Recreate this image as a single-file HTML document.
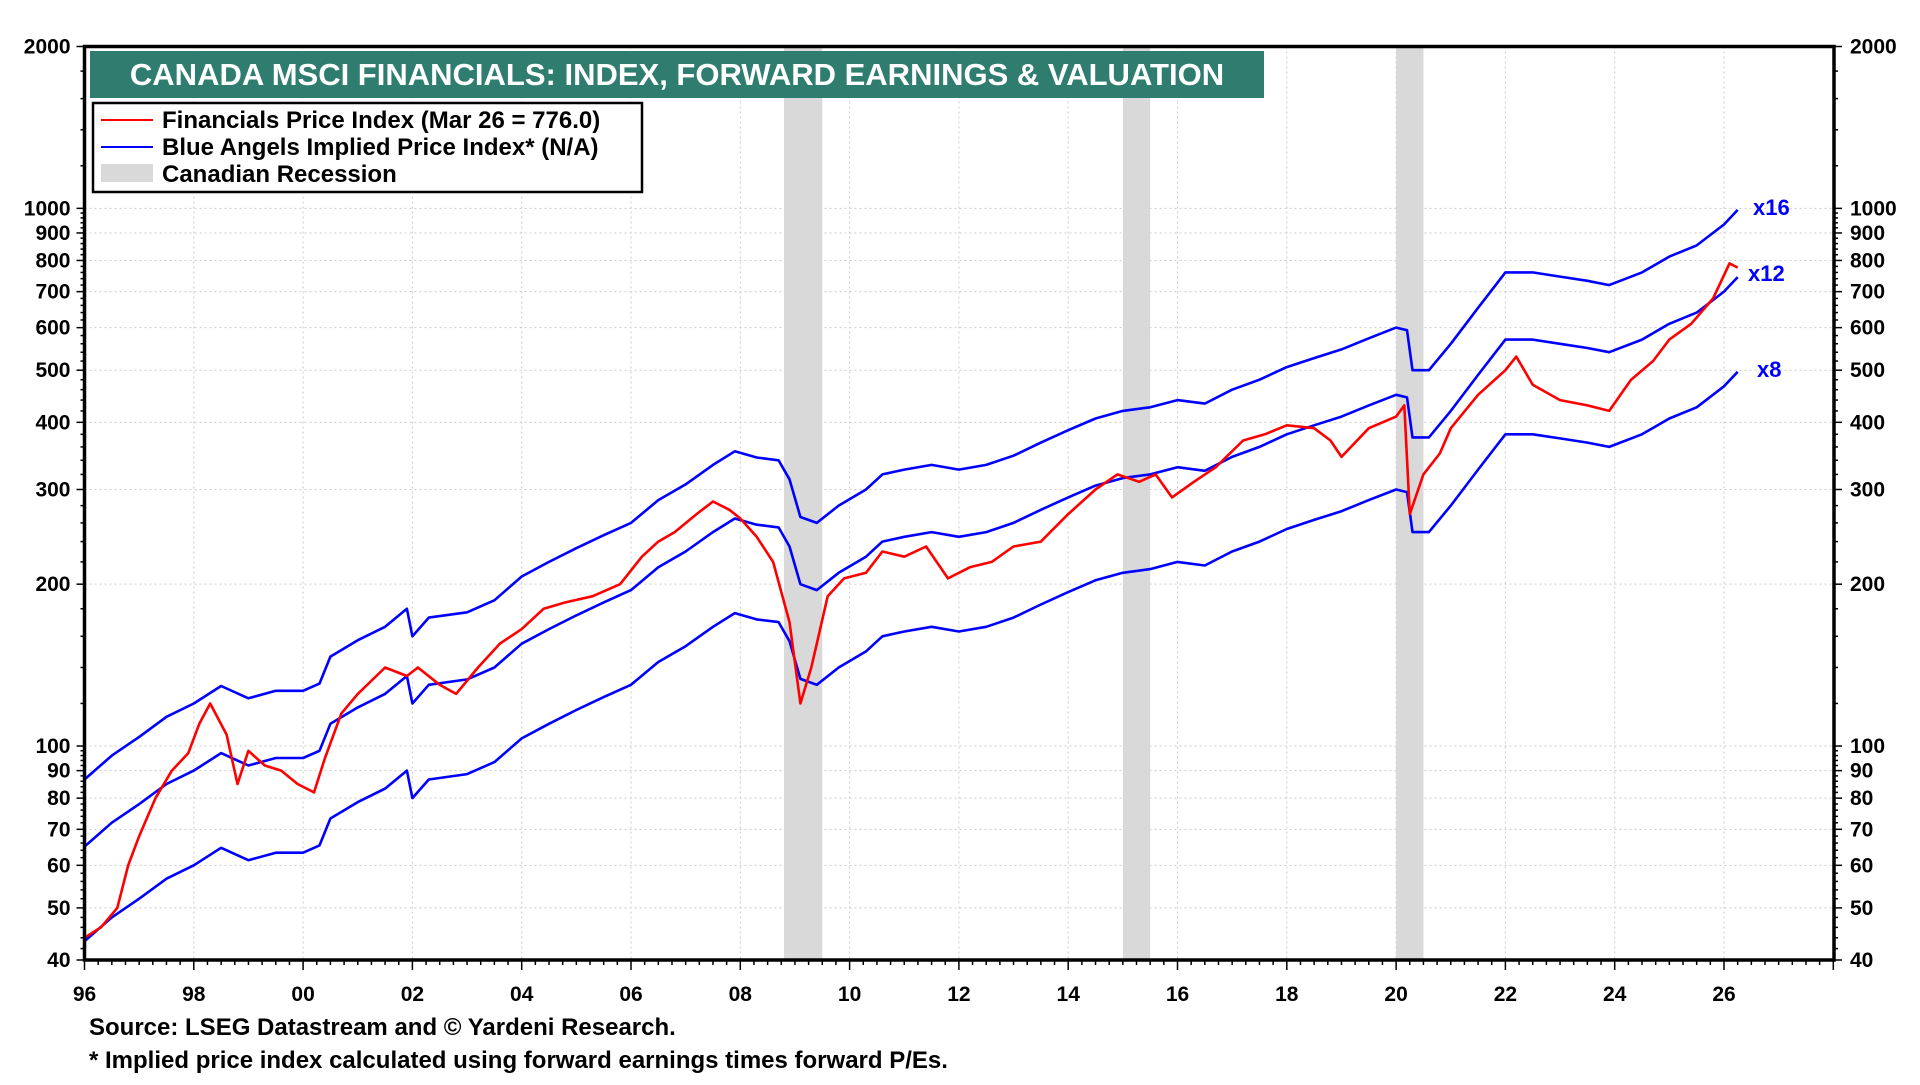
<!DOCTYPE html>
<html><head><meta charset="utf-8">
<style>
html,body{margin:0;padding:0;background:#fff;}
body{width:1920px;height:1080px;overflow:hidden;font-family:"Liberation Sans",Arial,sans-serif;}
svg text{font-family:"Liberation Sans",Arial,sans-serif;font-weight:bold;}
</style></head>
<body>
<svg id="chart" width="1920" height="1080" viewBox="0 0 1920 1080" xmlns="http://www.w3.org/2000/svg">
<g id="grid"></g>
<g id="recessions"></g>
<g id="series"></g>
<g id="axes"></g>
<rect x="90" y="51" width="1174" height="47" fill="#2e7d6f"/>
<text x="677" y="85" fill="#fff" font-size="31" text-anchor="middle">CANADA MSCI FINANCIALS: INDEX, FORWARD EARNINGS &amp; VALUATION</text>
<g>
<rect x="93" y="103" width="549" height="89" fill="#fff" stroke="#000" stroke-width="2.5"/>
<line x1="101" y1="120" x2="153" y2="120" stroke="#f00" stroke-width="2"/>
<text x="162" y="128" font-size="24">Financials Price Index (Mar 26 = 776.0)</text>
<line x1="101" y1="147" x2="153" y2="147" stroke="#00f" stroke-width="2"/>
<text x="162" y="155" font-size="24">Blue Angels Implied Price Index* (N/A)</text>
<rect x="101" y="164" width="52" height="18" fill="#d9d9d9"/>
<text x="162" y="182" font-size="24">Canadian Recession</text>
</g>
<text x="1753" y="215" fill="#00f" font-size="22">x16</text>
<text x="1748" y="281" fill="#00f" font-size="22">x12</text>
<text x="1757" y="377" fill="#00f" font-size="22">x8</text>
<text x="89" y="1035" font-size="24">Source: LSEG Datastream and © Yardeni Research.</text>
<text x="89" y="1068" font-size="24">* Implied price index calculated using forward earnings times forward P/Es.</text>
</svg>
<script>
const priceYears=[1996,1996.3,1996.6,1996.8,1997,1997.3,1997.6,1997.9,1998.1,1998.3,1998.6,1998.8,1999,1999.3,1999.6,1999.9,2000.2,2000.4,2000.7,2001,2001.5,2001.9,2002.1,2002.5,2002.8,2003.2,2003.6,2004,2004.4,2004.8,2005.3,2005.8,2006.2,2006.5,2006.8,2007.2,2007.5,2007.8,2008,2008.3,2008.6,2008.9,2009.1,2009.3,2009.6,2009.9,2010.3,2010.6,2011,2011.4,2011.8,2012.2,2012.6,2013,2013.5,2014,2014.5,2014.9,2015.3,2015.6,2015.9,2016.3,2016.7,2017.2,2017.6,2018,2018.5,2018.8,2019,2019.5,2020,2020.15,2020.25,2020.5,2020.8,2021,2021.5,2022,2022.2,2022.5,2023,2023.5,2023.9,2024.3,2024.7,2025,2025.4,2025.8,2026.1,2026.25];
const priceValues=[44,46,50,60,68,80,90,97,110,120,105,85,98,92,90,85,82,95,115,125,140,135,140,130,125,140,155,165,180,185,190,200,225,240,250,270,285,275,265,245,220,170,120,140,190,205,210,230,225,235,205,215,220,235,240,270,300,320,310,320,290,310,330,370,380,395,390,370,345,390,410,430,270,320,350,390,450,500,530,470,440,430,420,480,520,570,610,680,790,776];
const earnYears=[1996,1996.5,1997,1997.5,1998,1998.5,1999,1999.5,2000,2000.3,2000.5,2001,2001.5,2001.9,2002,2002.3,2003,2003.5,2004,2004.5,2005,2005.5,2006,2006.5,2007,2007.5,2007.9,2008.3,2008.7,2008.9,2009.1,2009.4,2009.8,2010.3,2010.6,2011,2011.5,2012,2012.5,2013,2013.5,2014,2014.5,2015,2015.5,2016,2016.5,2017,2017.5,2018,2018.5,2019,2019.5,2020,2020.2,2020.3,2020.6,2021,2021.5,2022,2022.5,2023,2023.5,2023.9,2024.5,2025,2025.5,2026,2026.25];
const impliedX12=[65,72,78,85,90,97,92,95,95,98,110,118,125,135,120,130,133,140,155,165,175,185,195,215,230,250,265,258,255,235,200,195,210,225,240,245,250,245,250,260,275,290,305,315,320,330,325,345,360,380,395,410,430,450,445,375,375,420,490,570,570,560,550,540,570,610,640,700,745];
const multiples=[8,12,16];
const forwardEarnings=impliedX12.map(v=>v/12);
const recessionStarts=[2008.8,2015.0,2020.0];
const recessionEnds=[2009.5,2015.5,2020.5];
const yTicks=[40,50,60,70,80,90,100,200,300,400,500,600,700,800,900,1000,2000];
const xTickYears=[1996,1998,2000,2002,2004,2006,2008,2010,2012,2014,2016,2018,2020,2022,2024,2026];
const xTickLabels=["96","98","00","02","04","06","08","10","12","14","16","18","20","22","24","26"];

const L=84.5,R=1834,T=46.5,B=960;
const X0=1996,PXY=(1724-84.5)/30;
const xs=y=>L+(y-X0)*PXY;
const ys=v=>B-(Math.log(v/40)/Math.log(2000/40))*(B-T);
const NS='http://www.w3.org/2000/svg';
function mk(tag,attrs,parent){const e=document.createElementNS(NS,tag);for(const k in attrs)e.setAttribute(k,attrs[k]);parent.appendChild(e);return e;}
const grid=document.getElementById('grid'),rec=document.getElementById('recessions'),ser=document.getElementById('series'),ax=document.getElementById('axes');

yTicks.forEach(v=>{if(v===40||v===2000)return;
 const g=mk('line',{x1:L,x2:R,y1:ys(v),y2:ys(v),stroke:'#ccc','stroke-width':1,'stroke-dasharray':'2,3'},grid);
 
 });
xTickYears.forEach(y=>{if(y===1996)return;
 const g=mk('line',{x1:xs(y),x2:xs(y),y1:T,y2:B,stroke:'#ccc','stroke-width':1,'stroke-dasharray':'2,3'},grid);
 
 });
recessionStarts.forEach((s,i)=>{
 const r=mk('rect',{x:xs(s),y:T,width:xs(recessionEnds[i])-xs(s),height:B-T,fill:'#d9d9d9'},rec);
 
 });
function path(xa,va){return xa.map((y,i)=>(i?'L':'M')+xs(y).toFixed(1)+','+ys(va[i]).toFixed(1)).join('');}
multiples.forEach(m=>{
 const p=mk('path',{d:path(earnYears,forwardEarnings.map(e=>e*m)),fill:'none',stroke:'#0000ff','stroke-width':2.6,'stroke-linejoin':'round'},ser);
 
 });
const rp=mk('path',{d:path(priceYears,priceValues),fill:'none',stroke:'#ff0000','stroke-width':2.6,'stroke-linejoin':'round'},ser);



const fr=mk('rect',{x:L,y:T,width:R-L,height:B-T,fill:'none',stroke:'#000','stroke-width':3.5},ax);


for(let d=40;d<=2000;){const big=yTicks.includes(d);
 const len=big?8:4;
 mk('line',{x1:L-len,x2:L,y1:ys(d),y2:ys(d),stroke:'#000','stroke-width':1.5},ax);
 mk('line',{x1:R,x2:R+len,y1:ys(d),y2:ys(d),stroke:'#000','stroke-width':1.5},ax);
 d+= d<100?2:(d<1000?20:200);}
yTicks.forEach(v=>{
 const t1=mk('text',{x:L-14,y:ys(v)+7,'text-anchor':'end','font-size':21},ax);t1.textContent=v;
 
 
 const t2=mk('text',{x:R+16,y:ys(v)+7,'font-size':21},ax);t2.textContent=v;
 
 });
for(let q=1996;q<=2028;q+=0.25){const major=Math.abs(q-Math.round(q/2)*2)<1e-6;
 mk('line',{x1:xs(q),x2:xs(q),y1:B,y2:B+(major?10:5),stroke:'#000','stroke-width':1.5},ax);}
xTickYears.forEach((y,i)=>{
 const t=mk('text',{x:xs(y),y:B+41,'text-anchor':'middle','font-size':21},ax);t.textContent=xTickLabels[i];
 
 });
</script>
</body></html>
